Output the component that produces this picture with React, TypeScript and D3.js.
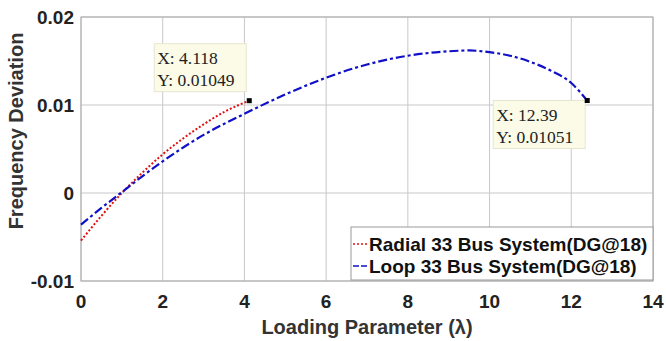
import React, { useEffect, useRef } from 'react';
import * as d3 from 'd3';

// Radial 33 bus system (DG@18)
const radialLambda = [0, 0.5, 1, 1.5, 2, 2.5, 3, 3.5, 4.118];
const radialDev = [-0.0054, -0.0026, 0, 0.0023, 0.0044, 0.0062, 0.0078, 0.0092, 0.01049];

// Loop 33 bus system (DG@18)
const loopLambda = [0, 0.5, 1, 1.5, 2, 3, 4, 5, 6, 7, 8, 9, 9.5, 10, 10.5, 11, 11.5, 12, 12.39];
const loopDev = [-0.0036, -0.0017, 0.0001, 0.0019, 0.0036, 0.0066, 0.009, 0.0112, 0.0131, 0.0146,
  0.0156, 0.0161, 0.0162, 0.016, 0.0156, 0.0149, 0.0139, 0.0125, 0.01051];

const xTicks = [0, 2, 4, 6, 8, 10, 12, 14];
const yTicks = [-0.01, 0, 0.01, 0.02];
const yTickLabels = ['-0.01', '0', '0.01', '0.02'];

const legendLabels = ['Radial 33 Bus System(DG@18)', 'Loop 33 Bus System(DG@18)'];

const dataTips = [
  { x: 4.118, y: 0.01049, lines: ['X: 4.118', 'Y: 0.01049'], dx: -95, dy: -57 },
  { x: 12.39, y: 0.01051, lines: ['X: 12.39', 'Y: 0.01051'], dx: -94, dy: 0 },
];

export default function App() {
  const ref = useRef<SVGSVGElement>(null);

  useEffect(() => {
    const svg = d3.select(ref.current);
    svg.selectAll('*').remove();

    const left = 81, top = 17, right = 653, bottom = 281;
    const x = d3.scaleLinear().domain([0, 14]).range([left, right]);
    const y = d3.scaleLinear().domain([-0.01, 0.02]).range([bottom, top]);
    const sans = 'Liberation Sans, Arial, sans-serif';
    const serif = 'Liberation Serif, Times New Roman, serif';

    svg.append('rect').attr('width', 666).attr('height', 341).attr('fill', '#fff');
    svg.append('rect').attr('x', left).attr('y', top).attr('width', right - left)
      .attr('height', bottom - top).attr('fill', '#fff');

    // grid
    const grid = svg.append('g').attr('stroke', '#c8c8c8').attr('stroke-width', 1);
    xTicks.forEach(t => {
      grid.append('line').attr('x1', x(t)).attr('x2', x(t)).attr('y1', top).attr('y2', bottom);
    });
    yTicks.forEach(t => {
      grid.append('line').attr('x1', left).attr('x2', right).attr('y1', y(t)).attr('y2', y(t));
    });

    svg.append('rect').attr('x', left).attr('y', top).attr('width', right - left)
      .attr('height', bottom - top).attr('fill', 'none').attr('stroke', '#aaa');

    // tick labels
    const tl = svg.append('g').attr('font-family', sans).attr('font-weight', 'bold')
      .attr('font-size', 19).attr('fill', '#222');
    xTicks.forEach(t => {
      tl.append('text').attr('x', x(t)).attr('y', 308).attr('text-anchor', 'middle').text(String(t));
    });
    yTicks.forEach((t, i) => {
      tl.append('text').attr('x', 74).attr('y', y(t) + 7).attr('text-anchor', 'end').text(yTickLabels[i]);
    });

    svg.append('text').attr('x', 367).attr('y', 334).attr('text-anchor', 'middle')
      .attr('font-family', sans).attr('font-weight', 'bold').attr('font-size', 20).attr('fill', '#333')
      .text('Loading Parameter (λ)');
    svg.append('text').attr('transform', 'translate(23,131) rotate(-90)').attr('text-anchor', 'middle')
      .attr('font-family', sans).attr('font-weight', 'bold').attr('font-size', 20).attr('fill', '#333')
      .text('Frequency Deviation');

    const line = d3.line<[number, number]>().x(d => x(d[0])).y(d => y(d[1])).curve(d3.curveMonotoneX);
    const radial = radialLambda.map((l, i) => [l, radialDev[i]] as [number, number]);
    const loop = loopLambda.map((l, i) => [l, loopDev[i]] as [number, number]);

    svg.append('path').attr('d', line(radial)).attr('fill', 'none').attr('stroke', '#e01010')
      .attr('stroke-width', 2).attr('stroke-dasharray', '2,2');
    svg.append('path').attr('d', line(loop)).attr('fill', 'none').attr('stroke', '#1010c8')
      .attr('stroke-width', 2.2).attr('stroke-dasharray', '9,3,3,3');

    // data tips
    dataTips.forEach(tip => {
      const px = x(tip.x), py = y(tip.y);
      const bx = px + tip.dx, by = py + tip.dy;
      svg.append('rect').attr('x', bx).attr('y', by).attr('width', 92).attr('height', 48)
        .attr('fill', '#fbfbe8').attr('stroke', '#e6e6d0');
      tip.lines.forEach((s, i) => {
        svg.append('text').attr('x', bx + 3).attr('y', by + 20 + i * 22)
          .attr('font-family', serif).attr('font-size', 17.5).attr('fill', '#222').text(s);
      });
      svg.append('rect').attr('x', px - 2.5).attr('y', py - 2.5).attr('width', 5).attr('height', 5)
        .attr('fill', '#000');
    });

    // legend
    const lg = svg.append('g');
    lg.append('rect').attr('x', 351).attr('y', 227).attr('width', 302).attr('height', 53)
      .attr('fill', '#fff').attr('stroke', '#999');
    const styles = [
      { c: '#e01010', d: '2,2' },
      { c: '#1010c8', d: '6,2' },
    ];
    legendLabels.forEach((s, i) => {
      const ly = 244 + i * 22;
      lg.append('line').attr('x1', 353).attr('x2', 367).attr('y1', ly).attr('y2', ly)
        .attr('stroke', styles[i].c).attr('stroke-width', 1.5).attr('stroke-dasharray', styles[i].d);
      lg.append('text').attr('x', 369).attr('y', ly + 7).attr('font-family', sans)
        .attr('font-weight', 'bold').attr('font-size', 19).attr('fill', '#111').text(s);
    });
  }, []);

  return <svg ref={ref} width={666} height={341} style={{ position: 'absolute', left: 0, top: 0 }} />;
}
